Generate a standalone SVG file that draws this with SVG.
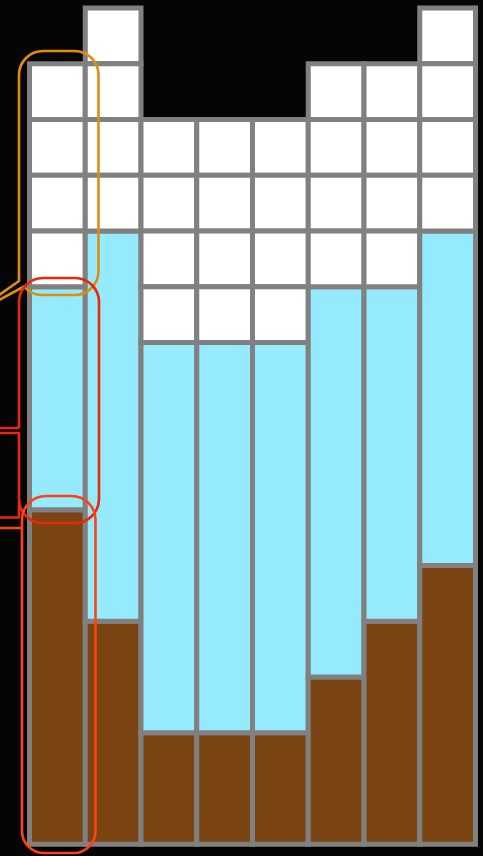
<svg xmlns="http://www.w3.org/2000/svg" width="483" height="856" viewBox="0 0 483 856">
<style>
.c{stroke:#808080;stroke-width:5}
.w{fill:#ffffff}
.a{fill:#95EAFD}
.b{fill:#7B4413}
.o{fill:none;stroke-width:2.6;stroke-linejoin:round}
</style>
<rect width="483" height="856" fill="#050505"/>
<g id="col0">
<rect class="c b" x="29.5" y="509.75" width="55.75" height="334.5"/>
<rect class="c a" x="29.5" y="286.75" width="55.75" height="223"/>
<rect class="c w" x="29.5" y="63.75" width="55.75" height="55.75"/>
<rect class="c w" x="29.5" y="119.5" width="55.75" height="55.75"/>
<rect class="c w" x="29.5" y="175.25" width="55.75" height="55.75"/>
<rect class="c w" x="29.5" y="231" width="55.75" height="55.75"/>
</g>
<g id="col1">
<rect class="c b" x="85.25" y="621.25" width="55.75" height="223"/>
<rect class="c a" x="85.25" y="231" width="55.75" height="390.25"/>
<rect class="c w" x="85.25" y="8" width="55.75" height="55.75"/>
<rect class="c w" x="85.25" y="63.75" width="55.75" height="55.75"/>
<rect class="c w" x="85.25" y="119.5" width="55.75" height="55.75"/>
<rect class="c w" x="85.25" y="175.25" width="55.75" height="55.75"/>
</g>
<g id="col2">
<rect class="c b" x="141" y="732.75" width="55.75" height="111.5"/>
<rect class="c a" x="141" y="342.5" width="55.75" height="390.25"/>
<rect class="c w" x="141" y="119.5" width="55.75" height="55.75"/>
<rect class="c w" x="141" y="175.25" width="55.75" height="55.75"/>
<rect class="c w" x="141" y="231" width="55.75" height="55.75"/>
<rect class="c w" x="141" y="286.75" width="55.75" height="55.75"/>
</g>
<g id="col3">
<rect class="c b" x="196.75" y="732.75" width="55.75" height="111.5"/>
<rect class="c a" x="196.75" y="342.5" width="55.75" height="390.25"/>
<rect class="c w" x="196.75" y="119.5" width="55.75" height="55.75"/>
<rect class="c w" x="196.75" y="175.25" width="55.75" height="55.75"/>
<rect class="c w" x="196.75" y="231" width="55.75" height="55.75"/>
<rect class="c w" x="196.75" y="286.75" width="55.75" height="55.75"/>
</g>
<g id="col4">
<rect class="c b" x="252.5" y="732.75" width="55.75" height="111.5"/>
<rect class="c a" x="252.5" y="342.5" width="55.75" height="390.25"/>
<rect class="c w" x="252.5" y="119.5" width="55.75" height="55.75"/>
<rect class="c w" x="252.5" y="175.25" width="55.75" height="55.75"/>
<rect class="c w" x="252.5" y="231" width="55.75" height="55.75"/>
<rect class="c w" x="252.5" y="286.75" width="55.75" height="55.75"/>
</g>
<g id="col5">
<rect class="c b" x="308.25" y="677" width="55.75" height="167.25"/>
<rect class="c a" x="308.25" y="286.75" width="55.75" height="390.25"/>
<rect class="c w" x="308.25" y="63.75" width="55.75" height="55.75"/>
<rect class="c w" x="308.25" y="119.5" width="55.75" height="55.75"/>
<rect class="c w" x="308.25" y="175.25" width="55.75" height="55.75"/>
<rect class="c w" x="308.25" y="231" width="55.75" height="55.75"/>
</g>
<g id="col6">
<rect class="c b" x="364" y="621.25" width="55.75" height="223"/>
<rect class="c a" x="364" y="286.75" width="55.75" height="334.5"/>
<rect class="c w" x="364" y="63.75" width="55.75" height="55.75"/>
<rect class="c w" x="364" y="119.5" width="55.75" height="55.75"/>
<rect class="c w" x="364" y="175.25" width="55.75" height="55.75"/>
<rect class="c w" x="364" y="231" width="55.75" height="55.75"/>
</g>
<g id="col7">
<rect class="c b" x="419.75" y="565.5" width="55.75" height="278.75"/>
<rect class="c a" x="419.75" y="231" width="55.75" height="334.5"/>
<rect class="c w" x="419.75" y="8" width="55.75" height="55.75"/>
<rect class="c w" x="419.75" y="63.75" width="55.75" height="55.75"/>
<rect class="c w" x="419.75" y="119.5" width="55.75" height="55.75"/>
<rect class="c w" x="419.75" y="175.25" width="55.75" height="55.75"/>
</g>
<g id="callouts">
<path id="callout-air" class="o" stroke="#DF8D0B" d="M19,281 L19,75 A24,24 0 0 1 43,51 L74.5,51 A24,24 0 0 1 98.5,75 L98.5,271 A24,24 0 0 1 74.5,295 L43,295 A24,24 0 0 1 24,286.5 L-32,317 Z"/>
<path id="callout-water" class="o" stroke="#E8290B" d="M19,428 L19,302 A24,24 0 0 1 43,278 L75,278 A24,24 0 0 1 99,302 L99,499 A24,24 0 0 1 75,523 L43,523 A24,24 0 0 1 19,499 L19,433 M-5,428 L19,428 M-5,433 L19,433 L19,517.5 L-5,517.5"/>
<path id="callout-ground" class="o" stroke="#FF4214" d="M22,528 L22,520 A24,24 0 0 1 46,496 L71.5,496 A24,24 0 0 1 95.5,520 L95.5,831 A22,22 0 0 1 73.5,853 L44,853 A22,22 0 0 1 22,831 L22,528 L-5,528"/>
</g>
</svg>
